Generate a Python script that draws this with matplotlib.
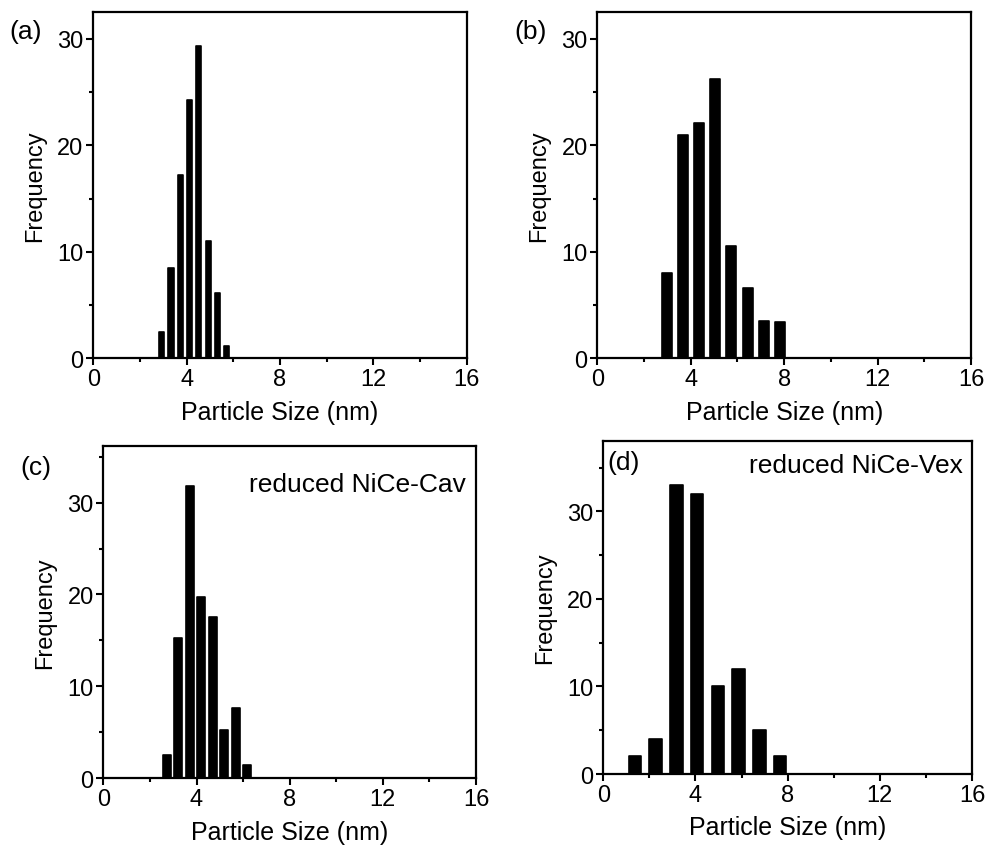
import matplotlib
matplotlib.use("Agg")
import matplotlib.pyplot as plt
from matplotlib.ticker import MultipleLocator

plt.rcParams["font.family"] = ["Liberation Sans", "DejaVu Sans"]

# bin centres (nm) and counts
size_a = [2.91, 3.33, 3.73, 4.14, 4.52, 4.93, 5.33, 5.71]
freq_a = [2.5, 8.5, 17.2, 24.3, 29.3, 11.0, 6.1, 1.2]

size_b = [2.98, 3.66, 4.35, 5.04, 5.74, 6.44, 7.13, 7.82]
freq_b = [8.0, 21.0, 22.1, 26.2, 10.5, 6.6, 3.5, 3.4]

size_c = [2.73, 3.22, 3.71, 4.20, 4.69, 5.19, 5.68, 6.17]
freq_c = [2.5, 15.3, 31.8, 19.7, 17.5, 5.2, 7.6, 1.4]

size_d = [1.37, 2.27, 3.17, 4.07, 4.97, 5.87, 6.77, 7.67]
freq_d = [2, 4, 33, 32, 10, 12, 5, 2]

panels = [
    # x, y, bar width, ymax, axes rect, letter, letter pos, note, note y
    (size_a, freq_a, 0.22, 32.5, [0.0943, 0.5793, 0.3776, 0.4052], "(a)", (0.026, 0.962), None, 0),
    (size_b, freq_b, 0.42, 32.5, [0.6040, 0.5793, 0.3778, 0.4052], "(b)", (0.536, 0.962), None, 0),
    (size_c, freq_c, 0.34, 36.2, [0.1045, 0.0875, 0.3768, 0.3895], "(c)", (0.036, 0.452), "reduced NiCe-Cav", 0.885),
    (size_d, freq_d, 0.54, 38.0, [0.6100, 0.0925, 0.3728, 0.3896], "(d)", (0.630, 0.458), "reduced NiCe-Vex", 0.93),
]

fig = plt.figure(figsize=(9.89, 8.54), dpi=100)

for x, y, w, ymax, rect, letter, lpos, note, note_y in panels:
    ax = fig.add_axes(rect)
    ax.bar(x, y, width=w, color="black", edgecolor="black", linewidth=1.2,
           joinstyle="round")
    ax.set_xlim(0, 16)
    ax.set_ylim(0, ymax)
    ax.xaxis.set_major_locator(MultipleLocator(4))
    ax.xaxis.set_minor_locator(MultipleLocator(2))
    ax.yaxis.set_major_locator(MultipleLocator(10))
    ax.yaxis.set_minor_locator(MultipleLocator(5))
    for s in ax.spines.values():
        s.set_linewidth(1.6)
    ax.tick_params(which="major", direction="out", length=5, width=1.5,
                   labelsize=17, pad=2, top=False, right=False)
    ax.tick_params(which="minor", direction="out", length=3, width=1.5,
                   top=False, right=False)
    ax.set_xlabel("Particle Size (nm)", fontsize=18, labelpad=7)
    ax.set_ylabel("Frequency", fontsize=17, labelpad=8)
    if note:
        ax.text(0.974, note_y, note, transform=ax.transAxes,
                ha="right", va="center", fontsize=19)
    fig.text(lpos[0], lpos[1], letter, ha="center", va="center", fontsize=19)

fig.savefig("out.png", dpi=100)
